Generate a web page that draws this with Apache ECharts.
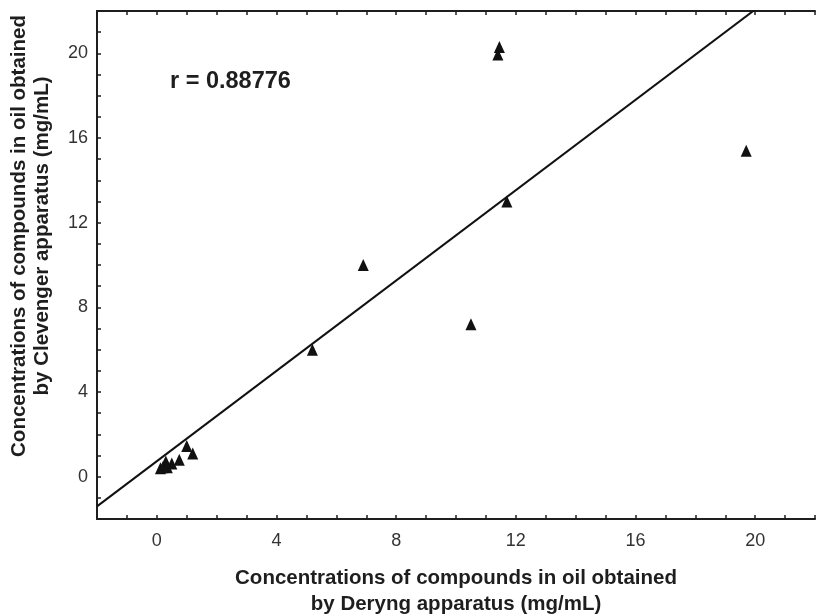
<!DOCTYPE html>
<html>
<head>
<meta charset="utf-8">
<script src="https://cdn.jsdelivr.net/npm/echarts@6/dist/echarts.min.js"></script>
<style>
html,body{margin:0;padding:0;background:#fff;}
#chart{width:818px;height:616px;}
</style>
</head>
<body>
<div id="chart"></div>
<script>
// Data
var deryng =    [19.7, 11.45, 11.4, 11.7, 10.5, 6.9, 5.2, 1.0, 1.2, 0.75, 0.5, 0.3, 0.12, 0.2, 0.35];
var clevenger = [15.4, 20.3, 19.95, 13.0, 7.2, 10.0, 6.0, 1.45, 1.1, 0.8, 0.62, 0.72, 0.4, 0.45, 0.45];
var fitX = [-2, 22];
var fitIntercept = 0.73;
var fitSlope = 1.067;
var xTickLabels = [0, 4, 8, 12, 16, 20];
var yTickLabels = [0, 4, 8, 12, 16, 20];
var rText = 'r = 0.88776';
var xTitle = 'Concentrations of compounds in oil obtained\nby Deryng apparatus (mg/mL)';
var yTitle = 'Concentrations of compounds in oil obtained\nby Clevenger apparatus (mg/mL)';

var points = deryng.map(function (x, i) { return [x, clevenger[i]]; });
var fitLine = fitX.map(function (x) { return [x, fitIntercept + fitSlope * x]; });

var axisColor = '#1e1e1e';
function labelFmt(list) {
  return function (v) { return list.indexOf(Math.round(v * 1000) / 1000) >= 0 ? String(v) : ''; };
}
function makeAxis(pos, list, showLabel, margin) {
  return {
    type: 'value', position: pos, min: -2, max: 22, interval: 1,
    axisLine: { show: true, onZero: false, lineStyle: { color: axisColor, width: 2 } },
    axisTick: { show: true, inside: true, length: 4, lineStyle: { color: axisColor, width: 1.5 } },
    axisLabel: { show: showLabel, interval: 0, formatter: labelFmt(list), color: '#333333',
                 fontFamily: 'Liberation Sans, Arial, sans-serif', fontSize: 18, margin: margin },
    splitLine: { show: false }
  };
}

var chart = echarts.init(document.getElementById('chart'), null, { renderer: 'canvas' });
chart.setOption({
  animation: false,
  backgroundColor: '#ffffff',
  grid: { left: 97, top: 11, right: -6, bottom: 97, containLabel: false },
  xAxis: [makeAxis('bottom', xTickLabels, true, 13), makeAxis('top', xTickLabels, false, 8)],
  yAxis: [makeAxis('left', yTickLabels, true, 9)],
  graphic: [
    { type: 'text', left: 170, top: 70, style: { text: rText, fill: '#1e1e1e',
      font: 'bold 23.5px "Liberation Sans", Arial, sans-serif' } },
    { type: 'text', x: 456, y: 591, style: { text: xTitle, fill: '#1e1e1e', align: 'center', verticalAlign: 'middle',
      lineHeight: 26, font: 'bold 20.5px "Liberation Sans", Arial, sans-serif' } },
    { type: 'text', x: 31, y: 236, rotation: Math.PI / 2, style: { text: yTitle, fill: '#1e1e1e', align: 'center', verticalAlign: 'middle',
      lineHeight: 23, font: 'bold 20.5px "Liberation Sans", Arial, sans-serif' } }
  ],
  series: [
    { type: 'line', data: fitLine, xAxisIndex: 0, yAxisIndex: 0, showSymbol: false, clip: true,
      lineStyle: { color: '#111111', width: 2 }, silent: true },
    { type: 'scatter', data: points, xAxisIndex: 0, yAxisIndex: 0, symbol: 'triangle', symbolSize: [11, 12],
      itemStyle: { color: '#111111', opacity: 1 } }
  ]
});
</script>
</body>
</html>
